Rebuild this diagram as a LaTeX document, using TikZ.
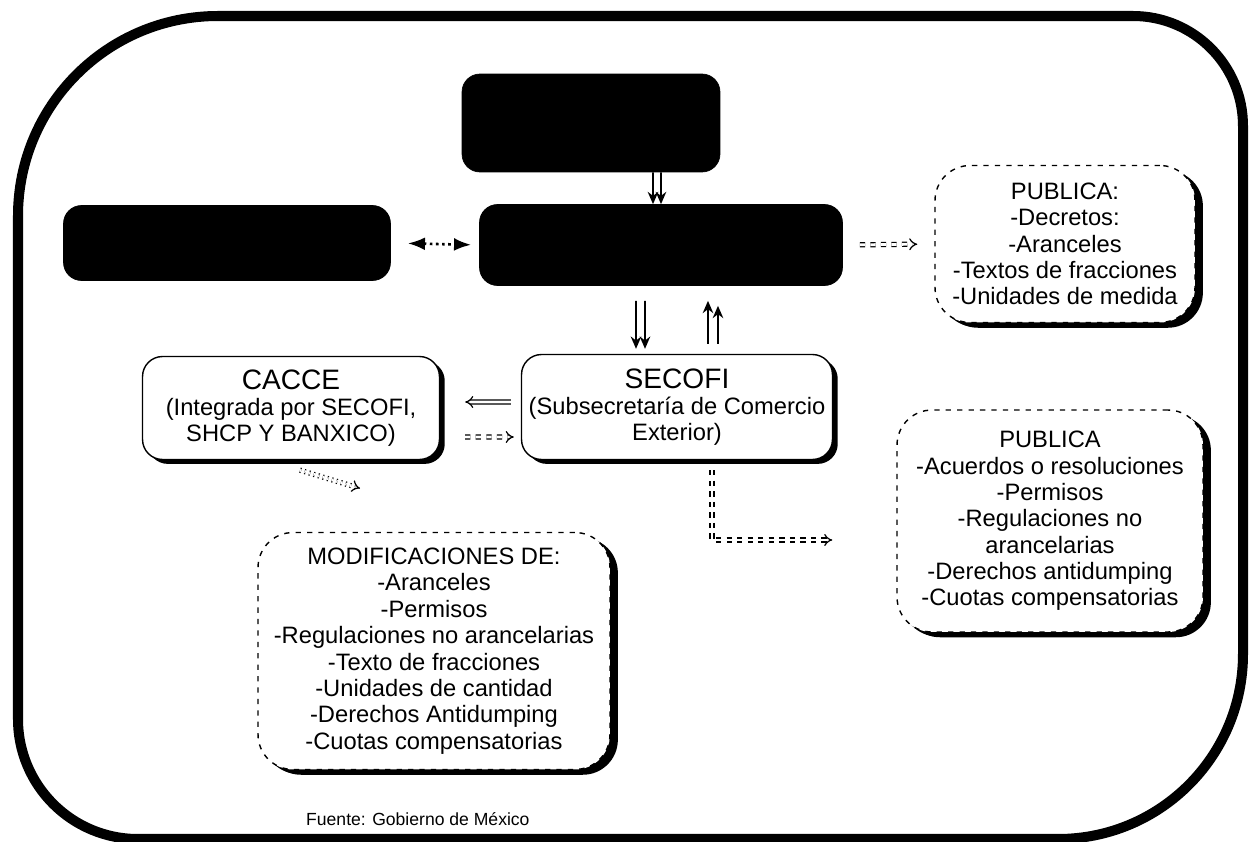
\documentclass[tikz,border=0pt]{standalone}
\usepackage{fontspec}
\setmainfont{Liberation Sans}
\usetikzlibrary{arrows.meta,shadows}
\begin{document}
\begin{tikzpicture}[x=0.02cm,y=-0.02cm]
  \tikzstyle{blackbox}=[rectangle,rounded corners=0.36cm,fill=black,draw=black]
  \tikzstyle{linebox}=[rectangle,rounded corners=0.4cm,draw,fill=white,line width=0.8pt,align=center,
    drop shadow={shadow xshift=3pt,shadow yshift=-2.5pt,fill=black,opacity=1},
    font=\fontsize{13.5}{15}\selectfont]
  \tikzstyle{dashbox}=[linebox,dash pattern=on 3pt off 3.5pt,rounded corners=0.7cm,
    drop shadow={shadow xshift=4.5pt,shadow yshift=-3pt,fill=black,opacity=1}]
  \tikzstyle{single}=[line width=1pt,-{Stealth[length=7pt,width=6pt]}]
  \tikzstyle{dbl}=[double,double distance=1.6pt,line width=0.7pt,-{Implies}]
  \useasboundingbox (0,0) rectangle (1249,842);
  \draw[line width=5.7pt] (18,420) [rounded corners=4cm] -- (18,16) -- (640,16)
    [rounded corners=2.2cm] -- (1243,16) -- (1243,450)
    [rounded corners=3.7cm] -- (1243,839) -- (640,839)
    [rounded corners=2.4cm] -- (18,839) -- cycle;

  \node[blackbox,minimum width=5.16cm,minimum height=1.96cm] (topbox) at (591,123) {};
  \node[blackbox,minimum width=7.26cm,minimum height=1.62cm] (midbox) at (661,245) {};
  \node[blackbox,minimum width=6.54cm,minimum height=1.5cm] (sidebox) at (227,243) {};
  \node[dashbox,minimum width=5.2cm,minimum height=3.14cm] (pubA) at (1065,244)
    {PUBLICA:\\-Decretos:\\-Aranceles\\-Textos de fracciones\\-Unidades de medida};
  \node[linebox,minimum width=5.94cm,minimum height=2.06cm] (cacce) at (291,408)
    {{\fontsize{16}{18}\selectfont CACCE}\\(Integrada por SECOFI,\\SHCP Y BANXICO)};
  \node[linebox,minimum width=6.22cm,minimum height=2.1cm] (secofi) at (677,407)
    {{\fontsize{16}{18}\selectfont SECOFI}\\(Subsecretaría de Comercio\\Exterior)};
  \node[dashbox,minimum width=6.12cm,minimum height=4.44cm] (pubB) at (1050,521)
    {PUBLICA\\-Acuerdos o resoluciones\\-Permisos\\-Regulaciones no\\arancelarias\\-Derechos antidumping\\-Cuotas compensatorias};
  \node[dashbox,minimum width=7.04cm,minimum height=4.74cm] (modif) at (434,651)
    {MODIFICACIONES DE:\\-Aranceles\\-Permisos\\-Regulaciones no arancelarias\\-Texto de fracciones\\-Unidades de cantidad\\-Derechos Antidumping\\-Cuotas compensatorias};
  \node[anchor=west,font=\fontsize{10}{12}\selectfont] (fuente) at (300,819) {Fuente: Gobierno de México};

  \draw[single] ([xshift=1.24cm]topbox.south) -- ([xshift=-0.16cm]midbox.north);
  \draw[single] ([xshift=1.4cm]topbox.south) -- (midbox.north);
  \draw[dotted,line width=1.5pt,{Latex}-{Latex},shorten <=0.34cm,shorten >=0.16cm] (sidebox.east) -- (midbox.west);
  \draw[dbl,dashed,shorten <=0.34cm,shorten >=0.34cm] (midbox.east) -- (pubA.west);
  \draw[single,shorten <=0.3cm,shorten >=0.1cm] ([xshift=-0.5cm]midbox.south) -- ([xshift=-0.82cm]secofi.north);
  \draw[single,shorten <=0.3cm,shorten >=0.1cm] ([xshift=-0.32cm]midbox.south) -- ([xshift=-0.64cm]secofi.north);
  \draw[single,shorten <=0.2cm,shorten >=0.3cm] ([xshift=0.62cm]secofi.north) -- ([xshift=0.94cm]midbox.south);
  \draw[single,shorten <=0.2cm,shorten >=0.4cm] ([xshift=0.82cm]secofi.north) -- ([xshift=1.14cm]midbox.south);
  \draw[dbl,shorten <=0.2cm,shorten >=0.5cm] ([yshift=0.1cm]secofi.west) -- ([yshift=0.12cm]cacce.east);
  \draw[dbl,dashed,shorten <=0.5cm,shorten >=0.14cm] ([yshift=-0.58cm]cacce.east) -- ([yshift=-0.6cm]secofi.west);
  \draw[dbl,dotted] ([shift={(0.18cm,-0.2cm)}]cacce.south) -- ([shift={(-1.48cm,0.87cm)}]modif.north);
  \draw[dbl,dashed,shorten <=0.2cm,shorten >=1.28cm] ([xshift=0.7cm]secofi.south) |- ([yshift=-0.38cm]pubB.west);
\end{tikzpicture}
\end{document}
